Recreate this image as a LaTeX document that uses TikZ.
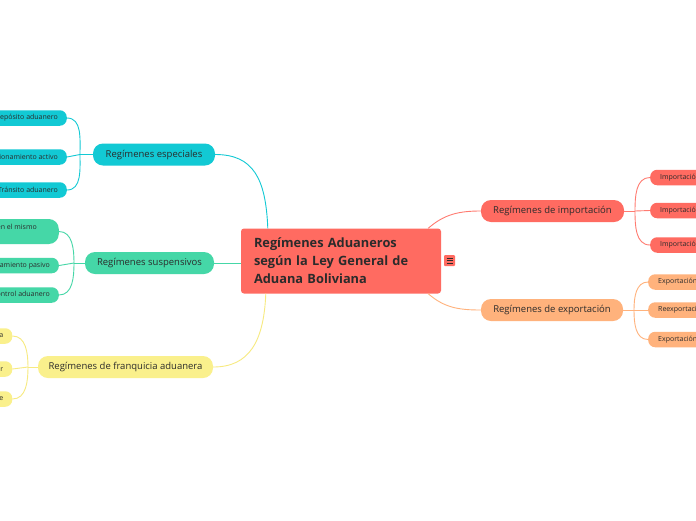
\documentclass[tikz,border=0pt]{standalone}
\usepackage{fontspec}
\setmainfont{Open Sans}
\definecolor{redc}{HTML}{FF6B61}
\definecolor{redl}{HTML}{FF7B71}
\definecolor{orac}{HTML}{FFB27C}
\definecolor{cyac}{HTML}{12C9D4}
\definecolor{grnc}{HTML}{45D7A7}
\definecolor{yelc}{HTML}{FAF08C}
\definecolor{yell}{HTML}{F7EA80}
\definecolor{txt}{HTML}{2B2B2B}
\begin{document}
\begin{tikzpicture}[x=1pt,y=-1pt,
  pill/.style={rounded corners=10pt, minimum height=22pt, inner sep=0pt,
    font=\fontsize{9.5}{11}\selectfont, text=txt},
  leaf/.style={rounded corners=7pt, minimum height=15.5pt, inner xsep=9pt, inner ysep=2pt,
    font=\fontsize{7}{9.5}\selectfont, text=txt},
  link/.style={line width=0.9pt}]
\useasboundingbox (0,0) rectangle (696,520);
\clip (0,0) rectangle (696,520);
\fill[white] (0,0) rectangle (696,520);

% central
\node[fill=redc, rounded corners=3pt, minimum width=200pt, minimum height=65pt,
  text width=174pt, align=left, inner xsep=13pt, text=txt,
  font=\bfseries\fontsize{12.8}{18}\selectfont] (central) at (341,261)
  {Regímenes Aduaneros\\según la Ley General de\\Aduana Boliviana};
\node[fill=redc, minimum size=11pt, inner sep=0pt, rounded corners=1pt] (icon) at (449.5,260.5) {};
\foreach \dy in {-2.5,0,2.5}
  \draw[txt, line width=0.8pt] ([xshift=-3pt,yshift=\dy pt]icon.center) -- ([xshift=3pt,yshift=\dy pt]icon.center);

% main branches
\node[pill, fill=cyac, minimum width=122pt] (esp) at (154,154.5) {Regímenes especiales};
\node[pill, fill=grnc, minimum width=129pt] (sus) at (149.5,263) {Regímenes suspensivos};
\node[pill, fill=yelc, minimum width=175pt] (fra) at (125.5,367) {Regímenes de franquicia aduanera};
\node[pill, fill=redc, minimum width=143pt] (imp) at (552.5,211) {Regímenes de importación};
\node[pill, fill=orac, minimum width=142pt] (exp) at (552,310) {Regímenes de exportación};

% leaves: especiales
\node[leaf, fill=cyac, anchor=east] (e1) at (67,118) {Depósito aduanero};
\node[leaf, fill=cyac, anchor=east] (e2) at (67,157) {Perfeccionamiento activo};
\node[leaf, fill=cyac, anchor=east] (e3) at (67,190) {Tránsito aduanero};
% leaves: suspensivos
\node[leaf, fill=grnc, anchor=east, align=left, minimum height=25pt, rounded corners=10pt] (s1) at (59,231.5) {Reimportación en el mismo\hspace*{13pt}\\estado};
\node[leaf, fill=grnc, anchor=east] (s2) at (59,265.5) {Perfeccionamiento pasivo};
\node[leaf, fill=grnc, anchor=east] (s3) at (59,295) {Transformación bajo control aduanero};
% leaves: franquicia
\node[leaf, fill=yelc, anchor=east] (f1) at (12.5,336) {Franquicia diplomática};
\node[leaf, fill=yelc, anchor=east] (f2) at (12.5,369) {Donaciones del exterior};
\node[leaf, fill=yelc, anchor=east] (f3) at (12.5,399) {Franquicia de equipaje};
% leaves: importacion
\node[leaf, fill=redc, anchor=west, inner xsep=10pt] (i1) at (650,177.5) {Importación para el consumo};
\node[leaf, fill=redc, anchor=west, inner xsep=10pt] (i2) at (650,210.5) {Importación temporal};
\node[leaf, fill=redc, anchor=west, inner xsep=10pt] (i3) at (650,245) {Importación de mercancías};
% leaves: exportacion
\node[leaf, fill=orac, anchor=west, inner xsep=10pt] (x1) at (648,282) {Exportación definitiva};
\node[leaf, fill=orac, anchor=west, inner xsep=10pt] (x2) at (648,310) {Reexportación de mercancías};
\node[leaf, fill=orac, anchor=west, inner xsep=10pt] (x3) at (648,339.5) {Exportación temporal};

% junctions
\coordinate (jE) at (80,154.5);
\coordinate (jS) at (74,263);
\coordinate (jF) at (28,367);
\coordinate (jI) at (635,211);
\coordinate (jX) at (634,310);

% central links
\draw[link, cyac] ([xshift=27pt]central.north west) .. controls +(-2,-50) and +(38,0) .. (esp.east);
\draw[link, grnc] (sus.east -| central.west) -- (sus.east);
\draw[link, yell] ([xshift=25pt]central.south west) .. controls +(-2,48) and +(36,0) .. (fra.east);
\draw[link, redl] ([xshift=-13pt]central.north east) .. controls +(16,-14) and +(-22,0) .. (imp.west);
\draw[link, orac] ([xshift=-13pt]central.south east) .. controls +(16,14) and +(-22,0) .. (exp.west);

% branch links
\draw[link, cyac] (esp.west) -- (jE);
\draw[link, cyac] (jE) to[out=90,in=0] (e1.east);
\draw[link, cyac] (jE) -- (e2.east);
\draw[link, cyac] (jE) to[out=-90,in=0] (e3.east);

\draw[link, grnc] (sus.west) -- (jS);
\draw[link, grnc] (jS) to[out=90,in=0] (s1.east);
\draw[link, grnc] (jS) -- (s2.east);
\draw[link, grnc] (jS) to[out=-90,in=0] (s3.east);

\draw[link, yell] (fra.west) -- (jF);
\draw[link, yell] (jF) to[out=90,in=0] (f1.east);
\draw[link, yell] (jF) -- (f2.east);
\draw[link, yell] (jF) to[out=-90,in=0] (f3.east);

\draw[link, redl] (imp.east) -- (jI);
\draw[link, redl] (jI) to[out=90,in=180] (i1.west);
\draw[link, redl] (jI) -- (i2.west);
\draw[link, redl] (jI) to[out=-90,in=180] (i3.west);

\draw[link, orac] (exp.east) -- (jX);
\draw[link, orac] (jX) to[out=90,in=180] (x1.west);
\draw[link, orac] (jX) -- (x2.west);
\draw[link, orac] (jX) to[out=-90,in=180] (x3.west);
\end{tikzpicture}
\end{document}
